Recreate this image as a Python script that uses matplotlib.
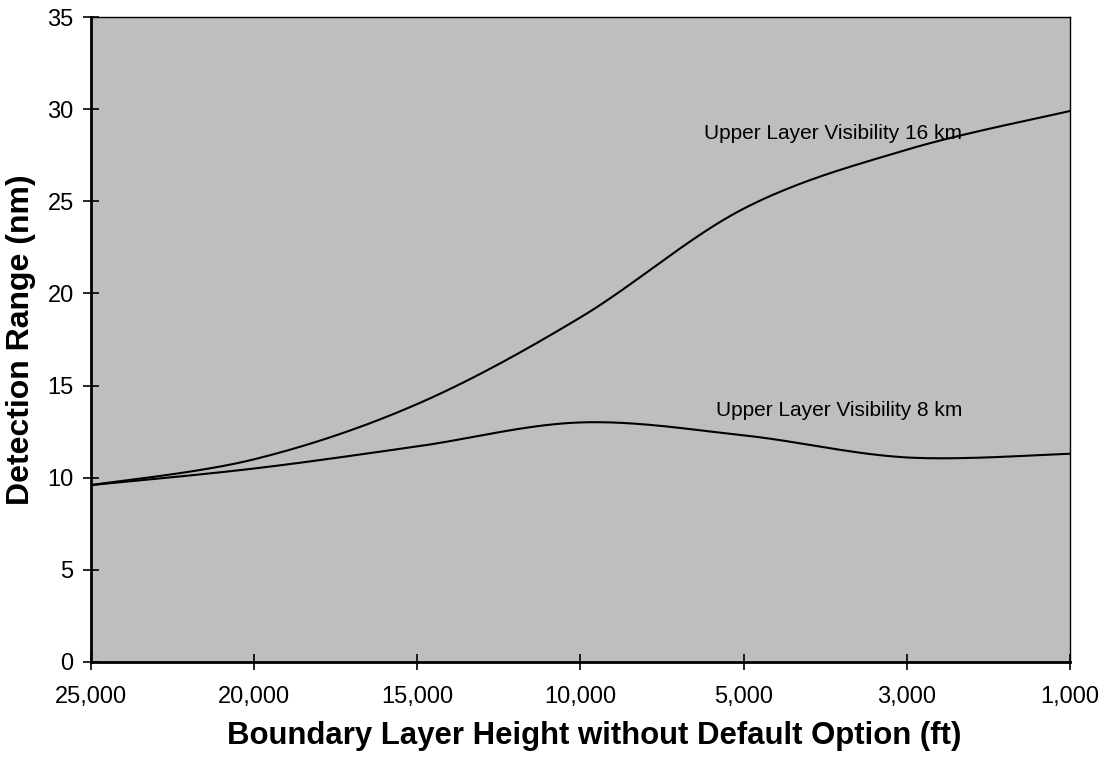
import matplotlib.pyplot as plt
import numpy as np

# values
heights = ['25,000', '20,000', '15,000', '10,000', '5,000', '3,000', '1,000']
vis_16km = [9.6, 11.0, 14.0, 18.7, 24.6, 27.8, 29.9]
vis_8km = [9.6, 10.5, 11.7, 13.0, 12.3, 11.1, 11.3]


def smooth(xs, ys, n=40):
    """Excel-style smoothed line (Catmull-Rom through the points)."""
    p = np.column_stack([xs, ys]).astype(float)
    p = np.vstack([p[0], p, p[-1]])
    t = np.linspace(0, 1, n)[:, None]
    out = []
    for i in range(1, len(p) - 2):
        a, b = p[i], p[i + 1]
        c1 = a + (p[i + 1] - p[i - 1]) / 6
        c2 = b - (p[i + 2] - p[i]) / 6
        seg = (1 - t) ** 3 * a + 3 * (1 - t) ** 2 * t * c1 + 3 * (1 - t) * t ** 2 * c2 + t ** 3 * b
        out.append(seg if i == 1 else seg[1:])
    out = np.vstack(out)
    return out[:, 0], out[:, 1]


plt.rcParams['font.family'] = ['Liberation Sans', 'DejaVu Sans']

fig = plt.figure(figsize=(11.03, 7.57), dpi=100)
ax = fig.add_axes([0.0825, 0.1255, 0.8875, 0.852])
ax.set_facecolor('#bebebe')

x = np.arange(len(heights))
for vals in (vis_16km, vis_8km):
    sx, sy = smooth(x, vals)
    ax.plot(sx, sy, color='black', linewidth=1.5)

ax.text(5.34, 28.7, 'Upper Layer Visibility 16 km', fontsize=15, ha='right', va='center')
ax.text(5.34, 13.67, 'Upper Layer Visibility 8 km', fontsize=15, ha='right', va='center')

ax.set_xlim(0, len(heights) - 1)
ax.set_ylim(0, 35)
ax.set_xticks(x)
ax.set_xticklabels(heights)
ax.set_yticks(np.arange(0, 36, 5))

ax.tick_params(axis='both', direction='inout', length=11, width=1.2, labelsize=17, colors='black')
ax.tick_params(axis='x', pad=12)
ax.tick_params(axis='y', pad=7)

ax.spines['left'].set_linewidth(2)
ax.spines['bottom'].set_linewidth(2)
ax.spines['top'].set_linewidth(1)
ax.spines['right'].set_linewidth(1)

ax.set_xlabel('Boundary Layer Height without Default Option (ft)', fontsize=22.4, fontweight='bold')
ax.xaxis.set_label_coords(0.514, -0.092)
ax.set_ylabel('Detection Range (nm)', fontsize=23, fontweight='bold', labelpad=8)

fig.savefig('out.png', dpi=100)
